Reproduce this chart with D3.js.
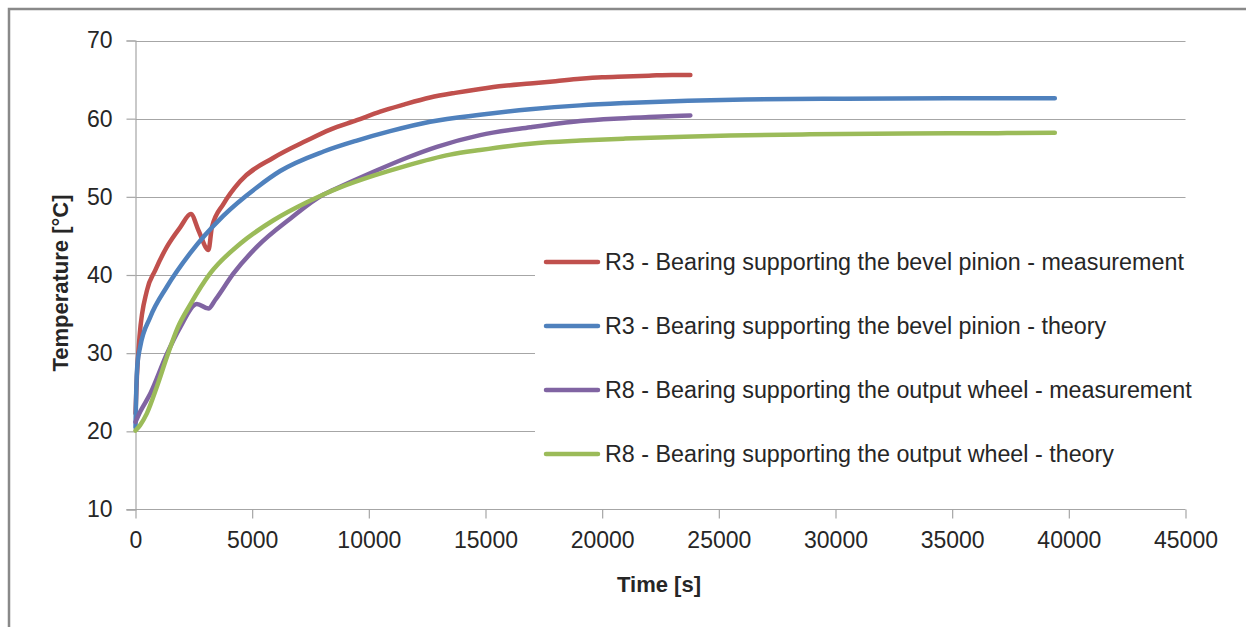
<!DOCTYPE html>
<html><head><meta charset="utf-8">
<script src="https://cdn.jsdelivr.net/npm/d3@7"></script>
<style>body{margin:0;background:#fff}svg{display:block}</style>
</head><body>
<svg id="c" width="1246" height="627"></svg>
<script>
const xTicks = [0,5000,10000,15000,20000,25000,30000,35000,40000,45000];
const yTicks = [10,20,30,40,50,60,70];
const seriesNames = [
  "R3 - Bearing supporting the bevel pinion - measurement",
  "R3 - Bearing supporting the bevel pinion - theory",
  "R8 - Bearing supporting the output wheel - measurement",
  "R8 - Bearing supporting the output wheel - theory"
];
const seriesColors = ["#C0504D","#4F81BD","#8064A2","#9BBB59"];
const r3MeasTime = [0,60,172,488,844,1345,1915,2374,2700,3128,3274,3772,4486,5914,7344,8343,9486,10486,11500,12628,13700,14771,15800,16914,18000,19056,20000,21000,22000,23000,23780];
const r3MeasTemp = [22.3,27,32.1,38.0,40.6,43.6,46.1,47.8,45.7,43.2,46.1,49.1,52.0,55.0,57.2,58.6,59.8,60.9,61.8,62.7,63.3,63.8,64.2,64.5,64.8,65.1,65.3,65.4,65.5,65.6,65.6];
const r3TheoTime = [0,30,80,200,630,1345,2344,3772,5200,6200,8060,9486,10915,12628,14771,16914,19056,21000,23670,26125,30400,35000,39400];
const r3TheoTemp = [20.5,25,28.5,30.8,34.6,38.5,42.8,47.6,51.2,53.3,55.8,57.2,58.4,59.6,60.5,61.2,61.7,62.0,62.3,62.45,62.55,62.6,62.6];
const r8MeasTime = [0,200,630,1345,1915,2630,3128,3415,4200,5200,6630,8058,8486,10200,11630,12915,14771,16914,19056,20500,22000,23780];
const r8MeasTemp = [21.2,22.5,24.8,29.9,33.3,36.3,35.7,36.8,40.2,43.6,47.2,50.3,50.9,53.2,55.0,56.4,57.9,58.9,59.7,60.0,60.2,60.4];
const r8TheoTime = [0,200,488,916,1345,1800,2344,3200,4486,5914,7344,8058,8772,10200,11630,13485,14771,16914,19056,21000,23510,25480,28900,33000,36960,39400];
const r8TheoTemp = [20.1,20.8,22.3,25.7,29.5,33.2,36.2,40.2,44.0,47.0,49.3,50.3,51.2,52.7,54.0,55.4,56.0,56.8,57.2,57.45,57.7,57.85,58.0,58.1,58.15,58.2];

const seriesTime = [r3MeasTime, r3TheoTime, r8MeasTime, r8TheoTime];
const seriesTemp = [r3MeasTemp, r3TheoTemp, r8MeasTemp, r8TheoTemp];

const svg = d3.select("#c");
const FONT = "'Liberation Sans', Arial, sans-serif";
const x = d3.scaleLinear().domain([0,45000]).range([135.5,1185.5]);
const y = d3.scaleLinear().domain([10,70]).range([509.5,40.5]);

// outer border
svg.append("rect").attr("x",9).attr("y",9).attr("width",1260).attr("height",640)
  .attr("fill","none").attr("stroke","#898989").attr("stroke-width",2.5);

// gridlines
svg.append("g").selectAll("line").data(yTicks.slice(1)).join("line")
  .attr("x1",x(0)).attr("x2",x(45000)).attr("y1",d=>Math.round(y(d))+0.5).attr("y2",d=>Math.round(y(d))+0.5)
  .attr("stroke","#a6a6a6").attr("stroke-width",1.2);

// axes
const yAxis = d3.axisLeft(y).tickValues(yTicks).tickSize(9).tickPadding(14).tickFormat(d3.format("d"));
const gy = svg.append("g").attr("transform",`translate(${x(0)},0)`).call(yAxis);
const xAxis = d3.axisBottom(x).tickValues(xTicks).tickSize(9).tickPadding(13).tickFormat(d3.format("d"));
const gx = svg.append("g").attr("transform",`translate(0,${y(10)})`).call(xAxis);
[gx,gy].forEach(g=>{
  g.select(".domain").attr("stroke","#a6a6a6").attr("stroke-width",1.2);
  g.selectAll(".tick line").attr("stroke","#a6a6a6").attr("stroke-width",1.2);
  g.selectAll(".tick text").attr("fill","#262626").style("font-family",FONT).style("font-size","23px");
});
gx.select(".domain").attr("d",`M${x(0)-9},0H${x(45000)}`);

// series lines
const line = d3.line().x(d=>x(d[0])).y(d=>y(d[1])).curve(d3.curveMonotoneX);
seriesTime.forEach((ts,i)=>{
  const pts = ts.map((t,j)=>[t, seriesTemp[i][j]]);
  svg.append("path").datum(pts).attr("d",line).attr("fill","none")
    .attr("stroke",seriesColors[i]).attr("stroke-width",4.5)
    .attr("stroke-linecap","round").attr("stroke-linejoin","round");
});

// legend
svg.append("rect").attr("x",535).attr("y",232).attr("width",705).attr("height",250).attr("fill","#fff");
const legendY = [262,326,390,454];
seriesNames.forEach((n,i)=>{
  svg.append("line").attr("x1",546).attr("x2",598).attr("y1",legendY[i]).attr("y2",legendY[i])
    .attr("stroke",seriesColors[i]).attr("stroke-width",4.5).attr("stroke-linecap","round");
  svg.append("text").attr("x",605).attr("y",legendY[i]+8).text(n)
    .attr("fill","#262626").style("font-family",FONT).style("font-size","23.3px");
});

// axis titles
svg.append("text").attr("x",659).attr("y",592).attr("text-anchor","middle").text("Time [s]")
  .attr("fill","#262626").style("font-family",FONT).style("font-size","22px").style("font-weight","bold");
svg.append("text").attr("transform","translate(68,283) rotate(-90)").attr("text-anchor","middle").text("Temperature [°C]")
  .attr("fill","#262626").style("font-family",FONT).style("font-size","22px").style("font-weight","bold");
</script>
</body></html>
